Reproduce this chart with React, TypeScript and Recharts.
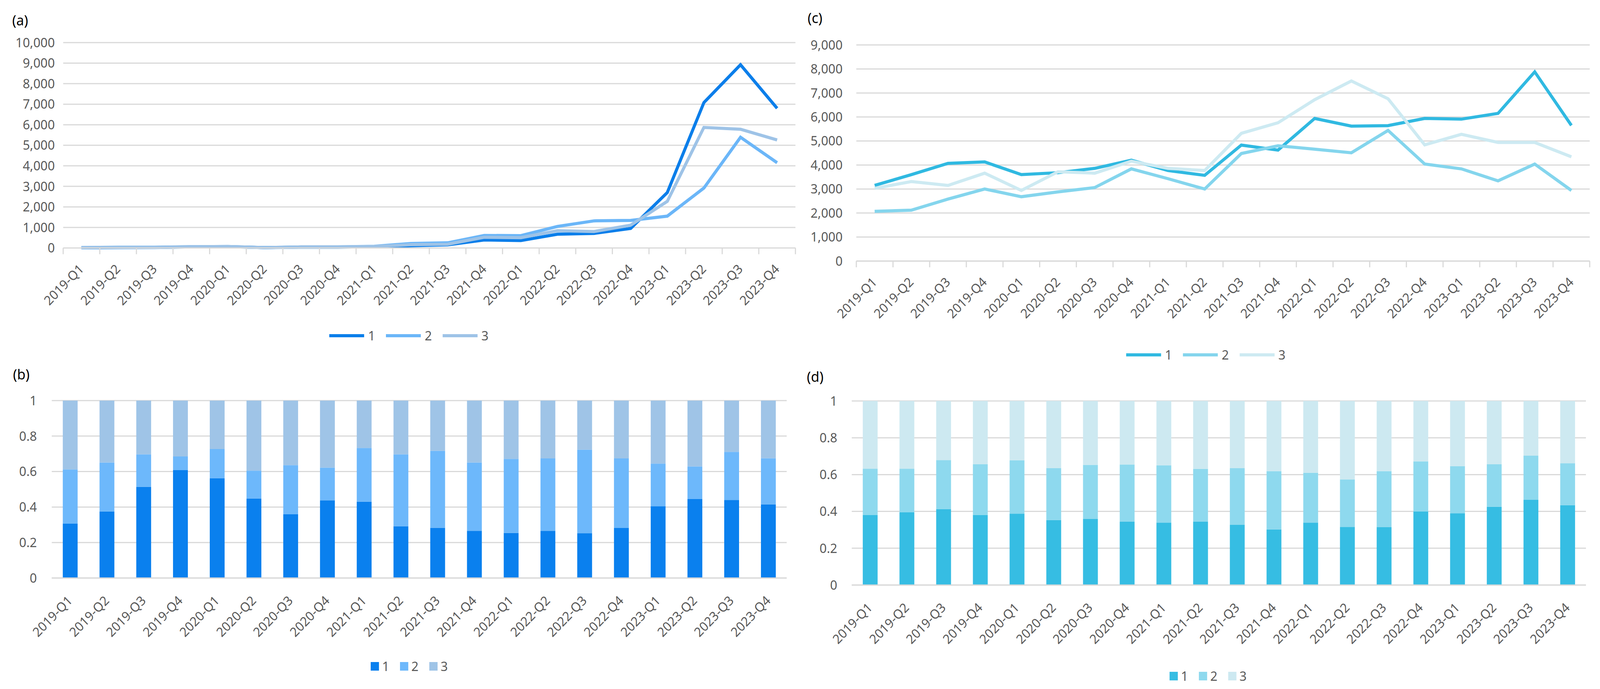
import { LineChart, Line, BarChart, Bar, XAxis, YAxis, CartesianGrid, Legend } from "recharts";

const quarters = [
  "2019-Q1", "2019-Q2", "2019-Q3", "2019-Q4",
  "2020-Q1", "2020-Q2", "2020-Q3", "2020-Q4",
  "2021-Q1", "2021-Q2", "2021-Q3", "2021-Q4",
  "2022-Q1", "2022-Q2", "2022-Q3", "2022-Q4",
  "2023-Q1", "2023-Q2", "2023-Q3", "2023-Q4",
];

// (a) volumes
const a1 = [10, 20, 25, 50, 60, 20, 40, 40, 60, 110, 150, 390, 360, 670, 710, 950, 2700, 7080, 8920, 6800];
const a2 = [20, 40, 40, 60, 70, 20, 50, 50, 80, 220, 250, 610, 600, 1050, 1320, 1340, 1550, 2920, 5390, 4150];
const a3 = [20, 30, 30, 60, 70, 20, 50, 50, 70, 160, 180, 520, 500, 840, 800, 1110, 2270, 5870, 5780, 5260];

// (b) shares
const b1 = [0.306, 0.375, 0.514, 0.608, 0.563, 0.448, 0.359, 0.438, 0.43, 0.292, 0.283, 0.266, 0.254, 0.266, 0.253, 0.282, 0.405, 0.445, 0.44, 0.415];
const b2 = [0.306, 0.276, 0.183, 0.077, 0.164, 0.157, 0.277, 0.184, 0.303, 0.405, 0.434, 0.385, 0.417, 0.408, 0.47, 0.392, 0.24, 0.184, 0.271, 0.26];
const b3 = [0.388, 0.349, 0.303, 0.315, 0.273, 0.395, 0.364, 0.378, 0.267, 0.303, 0.283, 0.349, 0.329, 0.326, 0.277, 0.326, 0.355, 0.371, 0.289, 0.325];

// (c) volumes
const c1 = [3150, 3600, 4070, 4130, 3600, 3680, 3860, 4200, 3770, 3570, 4830, 4620, 5940, 5620, 5640, 5940, 5910, 6150, 7880, 5650];
const c2 = [2070, 2120, 2580, 3000, 2680, 2880, 3060, 3840, 3430, 3000, 4480, 4800, 4660, 4510, 5440, 4040, 3840, 3340, 4040, 2940];
const c3 = [3030, 3310, 3150, 3660, 2940, 3720, 3660, 4160, 3860, 3770, 5320, 5760, 6720, 7500, 6760, 4840, 5280, 4940, 4940, 4340];

// (d) shares
const d1 = [0.38, 0.395, 0.413, 0.381, 0.388, 0.353, 0.359, 0.344, 0.339, 0.344, 0.327, 0.302, 0.339, 0.316, 0.314, 0.399, 0.39, 0.425, 0.463, 0.434];
const d2 = [0.252, 0.237, 0.266, 0.275, 0.29, 0.282, 0.294, 0.311, 0.312, 0.287, 0.308, 0.317, 0.271, 0.258, 0.305, 0.273, 0.256, 0.231, 0.24, 0.228];
const d3 = [0.368, 0.368, 0.321, 0.344, 0.322, 0.365, 0.347, 0.345, 0.349, 0.369, 0.365, 0.381, 0.39, 0.426, 0.381, 0.328, 0.354, 0.344, 0.297, 0.338];

const ticksA = [0, 1000, 2000, 3000, 4000, 5000, 6000, 7000, 8000, 9000, 10000];
const ticksC = [0, 1000, 2000, 3000, 4000, 5000, 6000, 7000, 8000, 9000];
const shareTicks = [0, 0.2, 0.4, 0.6, 0.8, 1];

const rows = (s1: number[], s2: number[], s3: number[]) =>
  quarters.map((quarter, i) => ({ quarter, s1: s1[i], s2: s2[i], s3: s3[i] }));

const PAGE_W = 4204;
const PAGE_H = 1763;
const GRID = "#d9d9d9";
const TEXT = "#595959";
const FONT = 33;

const paletteA = ["#0a7eea", "#6bb6f8", "#9ec3e7"];
const paletteB = ["#0a80ee", "#6db8fb", "#9fc4e7"];
const paletteC = ["#30b9e1", "#84d5ed", "#cdeaf2"];
const paletteD = ["#36bde3", "#8ed9ee", "#cde9f1"];

const thousands = (v: number) => v.toLocaleString("en-US");

function QuarterTick(props: any) {
  const { x = 0, y = 0, payload, index = 0, half = 0, marks = false, lift = 58 } = props;
  const tx = x + 8;
  const ty = y + lift;
  return (
    <g>
      {marks && <line x1={x - half} x2={x - half} y1={y} y2={y + 16} stroke={GRID} strokeWidth={3} />}
      {marks && index === quarters.length - 1 && (
        <line x1={x + half} x2={x + half} y1={y} y2={y + 16} stroke={GRID} strokeWidth={3} />
      )}
      <text x={tx} y={ty} transform={`rotate(-45 ${tx} ${ty})`} textAnchor="end" fill={TEXT} fontSize={FONT}>
        {payload?.value}
      </text>
    </g>
  );
}

function SeriesKey(props: any) {
  const { payload, shape } = props;
  const items = [...(payload ?? [])].sort((p: any, q: any) => String(p.value).localeCompare(String(q.value)));
  return (
    <div style={{ display: "flex", alignItems: "center", height: 40 }}>
      {items.map((item: any) => (
        <div key={item.value} style={{ display: "flex", alignItems: "center", marginRight: 28 }}>
          {shape === "line" ? (
            <svg width={92} height={10}>
              <line x1={0} y1={5} x2={92} y2={5} stroke={item.color} strokeWidth={8} />
            </svg>
          ) : (
            <svg width={22} height={22}>
              <rect width={22} height={22} fill={item.color} />
            </svg>
          )}
          <span style={{ marginLeft: shape === "line" ? 10 : 8, fontSize: FONT, color: TEXT, lineHeight: "40px" }}>
            {item.value}
          </span>
        </div>
      ))}
    </div>
  );
}

function PanelLabel({ text, left, top }: { text: string; left: number; top: number }) {
  return (
    <div style={{ position: "absolute", left, top, fontSize: 36, lineHeight: 1, color: "#000" }}>{text}</div>
  );
}

function VolumeChart(props: {
  data: any[];
  colors: string[];
  ticks: number[];
  width: number;
  height: number;
  margin: { top: number; right: number; bottom: number; left: number };
  axisWidth: number;
  labelGap: number;
  legendLeft: number;
  legendTop: number;
}) {
  const { data, colors, ticks, width, height, margin, axisWidth, labelGap, legendLeft, legendTop } = props;
  const plotWidth = width - margin.left - margin.right - axisWidth;
  const half = plotWidth / quarters.length / 2;
  return (
    <LineChart width={width} height={height} data={data} margin={margin}>
      <CartesianGrid vertical={false} stroke={GRID} strokeWidth={3} />
      <XAxis
        dataKey="quarter"
        interval={0}
        height={150}
        padding={{ left: half, right: half }}
        axisLine={{ stroke: GRID, strokeWidth: 3 }}
        tickLine={false}
        tickSize={0}
        tickMargin={0}
        tick={(p: any) => <QuarterTick {...p} half={half} marks lift={56} />}
      />
      <YAxis
        width={axisWidth}
        domain={[0, ticks[ticks.length - 1]]}
        ticks={ticks}
        interval={0}
        axisLine={false}
        tickLine={false}
        tickSize={0}
        tickMargin={labelGap}
        tickFormatter={thousands}
        tick={{ fill: TEXT, fontSize: FONT }}
      />
      <Legend
        verticalAlign="middle"
        align="center"
        layout="horizontal"
        wrapperStyle={{ left: legendLeft, top: legendTop, width: 520 }}
        content={(p: any) => <SeriesKey {...p} shape="line" />}
      />
      {["s1", "s2", "s3"].map((key, i) => (
        <Line
          key={key}
          type="linear"
          dataKey={key}
          name={String(i + 1)}
          stroke={colors[i]}
          strokeWidth={8}
          dot={false}
          activeDot={false}
          isAnimationActive={false}
        />
      ))}
    </LineChart>
  );
}

function ShareChart(props: {
  data: any[];
  colors: string[];
  width: number;
  height: number;
  margin: { top: number; right: number; bottom: number; left: number };
  axisWidth: number;
  labelGap: number;
  legendLeft: number;
  legendTop: number;
}) {
  const { data, colors, width, height, margin, axisWidth, labelGap, legendLeft, legendTop } = props;
  return (
    <BarChart width={width} height={height} data={data} margin={margin} stackOffset="expand" barCategoryGap="30%">
      <CartesianGrid vertical={false} stroke={GRID} strokeWidth={3} />
      <XAxis
        dataKey="quarter"
        interval={0}
        height={150}
        axisLine={{ stroke: GRID, strokeWidth: 3 }}
        tickLine={false}
        tickSize={0}
        tickMargin={0}
        tick={(p: any) => <QuarterTick {...p} lift={60} />}
      />
      <YAxis
        width={axisWidth}
        domain={[0, 1]}
        ticks={shareTicks}
        interval={0}
        axisLine={false}
        tickLine={false}
        tickSize={0}
        tickMargin={labelGap}
        tickFormatter={(v: number) => String(v)}
        tick={{ fill: TEXT, fontSize: FONT }}
      />
      <Legend
        verticalAlign="middle"
        align="center"
        layout="horizontal"
        wrapperStyle={{ left: legendLeft, top: legendTop, width: 300 }}
        content={(p: any) => <SeriesKey {...p} shape="square" />}
      />
      {["s1", "s2", "s3"].map((key, i) => (
        <Bar key={key} dataKey={key} name={String(i + 1)} stackId="share" fill={colors[i]} isAnimationActive={false} />
      ))}
    </BarChart>
  );
}

export default function App() {
  // fit the fixed-size figure into whatever viewport the page really gets
  const sx = (window.innerWidth || PAGE_W) / PAGE_W;
  const sy = (window.innerHeight || PAGE_H) / PAGE_H;
  return (
    <div
      style={{
        position: "fixed",
        left: 0,
        top: 0,
        width: "100vw",
        height: "100vh",
        overflow: "hidden",
        background: "#fff",
      }}
    >
      <div
        style={{
          position: "absolute",
          left: 0,
          top: 0,
          width: PAGE_W,
          height: PAGE_H,
          transform: `scale(${sx}, ${sy})`,
          transformOrigin: "0 0",
          fontFamily: "'Noto Sans', sans-serif",
        }}
      >
        <div style={{ position: "absolute", left: 0, top: 0 }}>
          <VolumeChart
            data={rows(a1, a2, a3)}
            colors={paletteA}
            ticks={ticksA}
            width={2100}
            height={900}
            margin={{ top: 109, right: 10, bottom: 115.5, left: 0 }}
            axisWidth={166}
            labelGap={22}
            legendLeft={865}
            legendTop={839}
          />
        </div>
        <div style={{ position: "absolute", left: 0, top: 900 }}>
          <ShareChart
            data={rows(b1, b2, b3)}
            colors={paletteB}
            width={2100}
            height={863}
            margin={{ top: 125, right: 33, bottom: 134, left: 0 }}
            axisWidth={136}
            labelGap={39}
            legendLeft={974}
            legendTop={785}
          />
        </div>
        <div style={{ position: "absolute", left: 2100, top: 0 }}>
          <VolumeChart
            data={rows(c1, c2, c3)}
            colors={paletteC}
            ticks={ticksC}
            width={2104}
            height={900}
            margin={{ top: 115, right: 27, bottom: 82, left: 0 }}
            axisWidth={150}
            labelGap={36}
            legendLeft={859}
            legendTop={888}
          />
        </div>
        <div style={{ position: "absolute", left: 2100, top: 900 }}>
          <ShareChart
            data={rows(d1, d2, d3)}
            colors={paletteD}
            width={2104}
            height={863}
            margin={{ top: 126, right: 37, bottom: 116, left: 0 }}
            axisWidth={138}
            labelGap={38}
            legendLeft={973}
            legendTop={810}
          />
        </div>
        <PanelLabel text="(a)" left={32} top={34} />
        <PanelLabel text="(b)" left={34} top={940} />
        <PanelLabel text="(c)" left={2122} top={28} />
        <PanelLabel text="(d)" left={2120} top={946} />
      </div>
    </div>
  );
}
